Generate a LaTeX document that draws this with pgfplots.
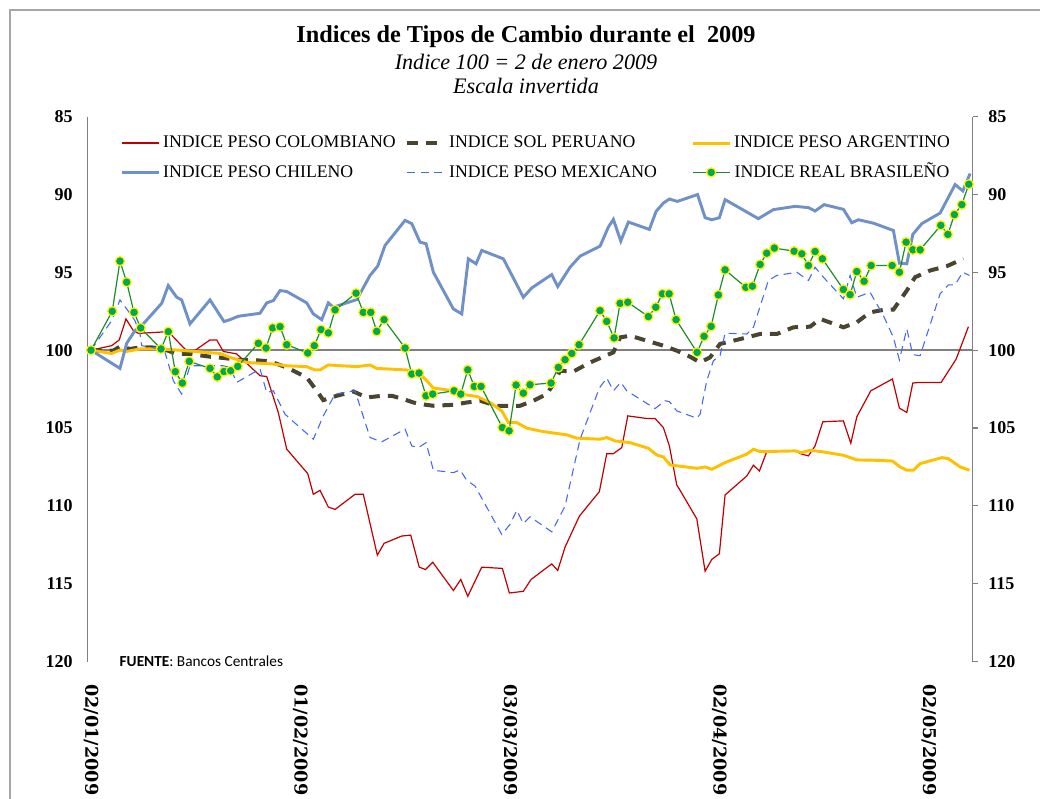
\documentclass[border=0pt]{standalone}
\usepackage{pgfplots}
\pgfplotsset{compat=1.18}
\usepackage{fontspec}
\setmainfont{Liberation Serif}
\newfontfamily\dvs{DejaVu Serif}
\newfontfamily\carl{Carlito}
\definecolor{colR}{HTML}{C00000}
\definecolor{colPer}{HTML}{4A4530}
\definecolor{colArg}{HTML}{FFC000}
\definecolor{colChi}{HTML}{6F91C8}
\definecolor{colMex}{HTML}{4468F0}
\definecolor{colBraL}{HTML}{1E8C28}
\definecolor{colBraF}{HTML}{00A84F}
\definecolor{axgray}{HTML}{808080}
\begin{document}
\begin{tikzpicture}
\useasboundingbox (0pt,0pt) rectangle (780pt,599.25pt);
\draw[color=black!35, line width=1.1pt] (7.5pt,-5pt) -- (7.5pt,591.75pt) -- (790pt,591.75pt);
\node[font=\fontsize{18.2}{20}\selectfont\bfseries] at (394.5pt,571.5pt) {Indices de Tipos de Cambio durante el\ \ 2009};
\node[font=\fontsize{16.6}{18}\selectfont\itshape] at (394.5pt,552.75pt) {Indice 100 = 2 de enero 2009};
\node[font=\fontsize{16.6}{18}\selectfont\itshape] at (394.5pt,534.75pt) {Escala invertida};
\begin{axis}[
  at={(65.625pt,103.125pt)}, anchor=south west,
  scale only axis, width=663.9pt, height=408.6pt,
  xmin=-0.5, xmax=126.3, ymin=85, ymax=120, y dir=reverse,
  separate axis lines,
  x axis line style={draw=none},
  y axis line style={draw=axgray, line width=1.1pt},
  xtick={0,30,60,90,120},
  xticklabels={02/01/2009,01/02/2009,03/03/2009,02/04/2009,02/05/2009},
  xtick style={draw=none},
  xticklabel style={rotate=-90, anchor=west, inner sep=0pt, font=\fontsize{13.2}{13}\dvs\bfseries},
  xticklabel shift=17pt,
  ytick={85,90,...,120}, ytick pos=left, ytick style={draw=none},
  yticklabel style={inner sep=0pt, font=\fontsize{13.5}{13.5}\selectfont\bfseries},
  yticklabel shift=10.9pt,
  /pgf/number format/assume math mode=true,
  extra y ticks={100}, extra y tick labels={},
  extra y tick style={grid=major, major grid style={draw=axgray, line width=1.1pt}},
  legend columns=3,
  legend style={draw=none, fill=none, inner sep=0pt, at={(0.0367,0.968)}, anchor=north west,
    nodes={inner sep=0pt, text height=10pt, text depth=3pt},
    row sep=9pt, font=\fontsize{13.3}{14}\selectfont,
    /tikz/every odd column/.append style={column sep=2.25pt}},
  legend image code/.code={\draw[mark repeat=2,mark phase=2,#1] plot coordinates {(0pt,0pt) (13.9pt,0pt) (27.75pt,0pt)};},
]
% Colombiano
\addplot[colR, line width=0.9pt] coordinates {
(0,100) (2.97,99.71) (4.05,99.34) (5.01,97.99) (6.06,98.74) (6.78,98.92) (11.07,98.81)
(13.22,99.82) (14.18,100.24) (17.05,99.34) (18.01,99.34) (18.95,100.08) (20.87,100.24)
(24.21,101.64) (25.17,101.69) (26.83,104.0) (28.04,106.36) (31.05,107.93) (31.85,109.26)
(32.81,109.0) (34.0,110.08) (34.96,110.23) (37.82,109.26) (39.01,109.26) (41.02,113.17)
(41.98,112.41) (44.51,111.94) (45.80,111.88) (47.02,113.94) (47.92,114.09) (48.95,113.62)
(51.91,115.44) (52.97,114.73) (53.97,115.81) (55.97,113.94) (58.93,114.02) (59.93,115.60)
(61.93,115.49) (63.04,114.73) (66.0,113.73) (66.86,114.15) (67.91,112.65) (69.96,110.66)
(72.82,109.09) (73.88,106.65) (74.83,106.65) (76.03,106.26) (76.89,104.22) (79.61,104.39)
(80.80,104.39) (81.99,104.97) (82.85,106.15) (83.91,108.66) (84.38,109.0) (86.78,110.84)
(87.97,114.20) (88.93,113.44) (90.01,113.08) (90.83,109.30) (93.94,108.08) (94.89,107.39)
(95.75,107.76) (96.80,106.52) (100.86,106.47) (101.82,106.68) (102.77,106.79) (103.72,106.15)
(104.83,104.60) (107.78,104.54) (108.84,105.98) (109.70,104.28) (111.70,102.61) (114.80,101.85)
(115.80,103.72) (116.86,104.0) (117.72,102.11) (118.67,102.07) (121.78,102.07) (123.93,100.57)
(125.69,98.49)
};
\addlegendentry{\makebox[181.5pt][l]{INDICE PESO COLOMBIANO}}
% Peruano
\addplot[colPer, line width=3pt, dash pattern=on 8pt off 6pt] coordinates {
(0,100) (3.19,100.03) (4.15,99.77) (5.59,99.92) (7.02,99.82) (8.70,99.82) (10.36,99.92)
(12.28,100.24) (14.18,100.24) (17.05,100.42) (18.95,100.50) (21.35,100.63) (23.25,100.63)
(25.64,100.72) (28.04,101.11) (30.90,101.75) (32.34,102.61) (33.28,103.21) (35.20,102.93)
(37.58,102.65) (39.50,103.04) (41.65,102.93) (43.08,102.93) (44.74,103.14) (46.18,103.36)
(47.13,103.46) (49.04,103.57) (51.91,103.51) (53.83,103.36) (55.73,103.25) (58.12,103.57)
(61.46,103.57) (63.37,103.25) (65.29,102.82) (66.23,102.18) (67.19,101.32) (69.10,101.37)
(71.49,100.79) (74.83,100.14) (75.79,99.18) (77.22,99.07) (79.61,99.39) (81.99,99.71)
(83.91,100.03) (85.82,100.42) (87.25,100.79) (88.68,100.46) (90.11,99.60) (92.02,99.39)
(93.94,99.18) (95.85,98.96) (98.24,98.96) (100.62,98.53) (103.01,98.49) (104.44,97.99)
(107.78,98.53) (109.70,98.21) (111.60,97.57) (113.51,97.41) (114.94,97.39) (116.86,96.17)
(118.05,95.31) (120.20,94.88) (122.59,94.60) (124.97,94.13)
};
\addlegendentry{\makebox[181.5pt][l]{INDICE SOL PERUANO}}
% Argentino
\addplot[colArg, line width=2.2pt] coordinates {
(0,100) (2.97,100.21) (4.15,99.99) (5.11,100.08) (7.02,99.92) (9.89,99.92) (12.28,99.99)
(18.48,100.21) (19.91,100.46) (22.31,100.79) (26.12,100.89) (28.04,101.0) (30.90,101.06)
(32.09,101.27) (32.81,101.27) (34.0,100.95) (38.07,101.06) (39.97,100.95) (40.93,101.17)
(45.23,101.27) (47.13,101.53) (48.09,101.96) (49.04,102.43) (51.91,102.61) (52.87,102.82)
(55.26,102.97) (57.16,103.36) (58.84,103.90) (59.79,104.65) (60.99,104.65) (62.42,105.01)
(64.80,105.23) (68.15,105.44) (69.58,105.65) (72.92,105.72) (73.88,105.61) (75.07,105.83)
(77.22,105.94) (79.84,106.30) (81.05,106.73) (81.99,106.86) (82.95,107.37) (84.86,107.48)
(86.78,107.59) (87.97,107.50) (88.93,107.65) (90.83,107.22) (93.94,106.68) (94.89,106.36)
(95.85,106.52) (100.86,106.47) (101.82,106.58) (103.01,106.43) (104.92,106.54) (107.78,106.75)
(109.70,107.05) (112.08,107.07) (114.80,107.12) (115.90,107.50) (116.86,107.71) (117.81,107.71)
(118.77,107.29) (121.88,106.90) (122.82,106.97) (124.50,107.50) (125.83,107.71)
};
\addlegendentry{INDICE PESO ARGENTINO}
% Chileno
\addplot[colChi, line width=2.2pt] coordinates {
(0,100) (4.15,101.17) (5.11,99.56) (6.30,98.74) (7.49,98.31) (10.13,96.99) (11.07,95.85)
(12.28,96.60) (12.99,96.77) (14.18,98.31) (17.05,96.77) (19.05,98.16) (19.91,98.04)
(21.10,97.82) (24.21,97.63) (25.17,96.96) (26.12,96.81) (27.08,96.17) (28.04,96.23)
(30.90,96.96) (31.85,97.67) (33.05,98.04) (34.0,96.96) (34.71,97.24) (38.07,96.75)
(39.97,95.20) (41.07,94.60) (42.12,93.27) (44.99,91.66) (45.95,91.87) (47.13,93.06)
(48.0,93.16) (49.04,94.99) (51.91,97.35) (53.11,97.67) (54.05,94.13) (55.16,94.45)
(55.97,93.59) (59.07,94.13) (61.93,96.60) (63.14,96.0) (66.0,95.14) (66.86,95.91)
(68.62,94.67) (70.06,93.96) (72.92,93.32) (74.11,92.09) (74.83,91.60) (75.89,92.99)
(76.98,91.77) (79.99,92.24) (80.95,91.08) (81.99,90.55) (82.85,90.29) (84.0,90.44)
(86.89,90.0) (87.97,91.49) (88.93,91.62) (90.01,91.49) (90.83,90.33) (95.6,91.55)
(97.75,90.97) (100.86,90.76) (102.77,90.84) (103.72,91.06) (105.01,90.65) (107.78,90.95)
(108.98,91.81) (109.93,91.62) (112.08,91.84) (114.94,92.31) (115.80,94.41) (116.86,94.45)
(117.72,92.56) (119.01,91.87) (121.63,91.19) (123.78,89.36) (124.88,89.77) (125.93,88.65)
};
\addlegendentry{\makebox[181.5pt][l]{INDICE PESO CHILENO}}
% Mexicano
\addplot[colMex, line width=0.8pt, dash pattern=on 6pt off 4pt] coordinates {
(0,100) (2.97,98.10) (4.15,96.77) (5.11,97.35) (6.30,98.10) (7.02,98.96) (7.26,99.71)
(9.89,99.92) (10.60,100.14) (11.79,101.96) (12.99,102.82) (14.18,101.0) (17.05,101.0)
(18.95,101.0) (19.91,101.11) (20.87,102.07) (24.21,101.21) (25.17,102.72) (26.12,102.61)
(27.79,104.11) (29.94,104.97) (31.85,105.72) (33.28,104.22) (34.96,102.82) (37.82,102.61)
(39.97,105.61) (41.65,105.89) (44.99,105.07) (45.95,106.15) (46.89,106.26) (48.0,105.94)
(49.04,107.71) (51.91,107.87) (52.87,107.69) (53.83,108.36) (55.01,108.73) (56.20,109.69)
(58.84,111.84) (60.03,111.19) (60.99,110.29) (61.93,111.13) (62.89,110.70) (66.0,111.67)
(67.91,110.01) (70.06,105.72) (72.82,102.43) (73.88,101.79) (74.83,102.61) (75.89,102.07)
(76.75,102.61) (80.80,103.75) (82.23,103.25) (82.85,103.30) (83.91,103.90) (86.78,104.37)
(87.25,104.11) (88.21,101.96) (89.15,100.68) (90.11,100.35) (90.83,98.91) (93.94,98.96)
(94.89,98.53) (97.03,95.52) (98.24,95.20) (101.10,94.99) (102.77,95.52) (103.72,94.67)
(104.91,95.31) (107.78,96.70) (108.74,95.20) (109.70,96.60) (111.60,96.28) (113.51,97.78)
(114.94,99.18) (115.80,100.63) (116.86,98.63) (117.72,100.29) (118.77,100.35) (121.63,96.38)
(122.82,95.80) (123.78,95.80) (124.88,94.99) (125.83,95.20)
};
\addlegendentry{\makebox[181.5pt][l]{INDICE PESO MEXICANO}}
% Brasileno
\addplot[colBraL, line width=0.9pt, mark=*, mark size=3.4pt,
  mark options={solid, fill=colBraF, draw=yellow, line width=0.9pt}] coordinates {
(0,100) (3.05,97.50) (4.15,94.28) (5.11,95.63) (6.16,97.57) (7.12,98.57) (10.03,99.92)
(11.07,98.81) (12.08,101.38) (13.08,102.11) (14.08,100.72) (17.05,101.17) (18.09,101.71)
(19.05,101.37) (20.01,101.32) (21.02,101.04) (23.97,99.56) (25.07,99.86) (26.03,98.57)
(27.08,98.49) (28.04,99.65) (31.05,100.18) (31.99,99.71) (32.95,98.68) (34.0,98.89)
(34.96,97.41) (37.97,96.34) (39.01,97.57) (40.07,97.57) (40.93,98.79) (41.98,98.04)
(44.99,99.86) (45.95,101.53) (46.99,101.47) (47.99,102.93) (48.95,102.82) (52.01,102.61)
(52.97,102.82) (53.97,101.26) (54.91,102.33) (55.87,102.33) (58.93,104.97) (59.89,105.18)
(60.89,102.24) (61.93,102.76) (62.89,102.22) (65.90,102.11) (66.95,101.11) (67.91,100.61)
(68.87,100.21) (69.91,99.65) (72.92,97.46) (73.88,98.15) (74.93,99.21) (75.79,96.99)
(76.89,96.92) (79.84,97.84) (80.90,97.24) (81.85,96.38) (82.81,96.38) (83.81,98.04)
(86.82,100.14) (87.82,99.11) (88.83,98.47) (89.87,96.45) (90.83,94.84) (93.80,95.96)
(94.74,95.89) (95.85,94.49) (96.80,93.77) (97.89,93.44) (100.72,93.64) (101.82,93.81)
(102.77,94.56) (103.72,93.66) (104.77,94.13) (107.78,96.10) (108.74,96.43) (109.70,94.95)
(110.74,95.57) (111.75,94.56) (114.76,94.56) (115.80,94.99) (116.76,93.06) (117.72,93.55)
(118.77,93.55) (121.73,91.98) (122.74,92.56) (123.68,91.29) (124.74,90.65) (125.74,89.34)
};
\addlegendentry{INDICE REAL BRASILEÑO}
\end{axis}
\begin{axis}[
  at={(65.625pt,103.125pt)}, anchor=south west,
  scale only axis, width=663.9pt, height=408.6pt,
  xmin=-0.5, xmax=126.3, ymin=85, ymax=120, y dir=reverse,
  hide x axis, axis line style={draw=none},
  ytick={85,90,...,120}, ytick pos=right, yticklabel pos=right,
  tick align=outside, major tick length=3.75pt,
  ytick style={draw=axgray, line width=0.8pt},
  yticklabel style={inner sep=0pt, font=\fontsize{13.5}{13.5}\selectfont\bfseries},
  yticklabel shift=7.75pt,
  /pgf/number format/assume math mode=true,
]
\end{axis}
\node[anchor=west, font=\fontsize{11.5}{12}\carl] at (86.25pt,103.5pt) {\textbf{FUENTE}: Bancos Centrales};
\end{tikzpicture}
\end{document}
